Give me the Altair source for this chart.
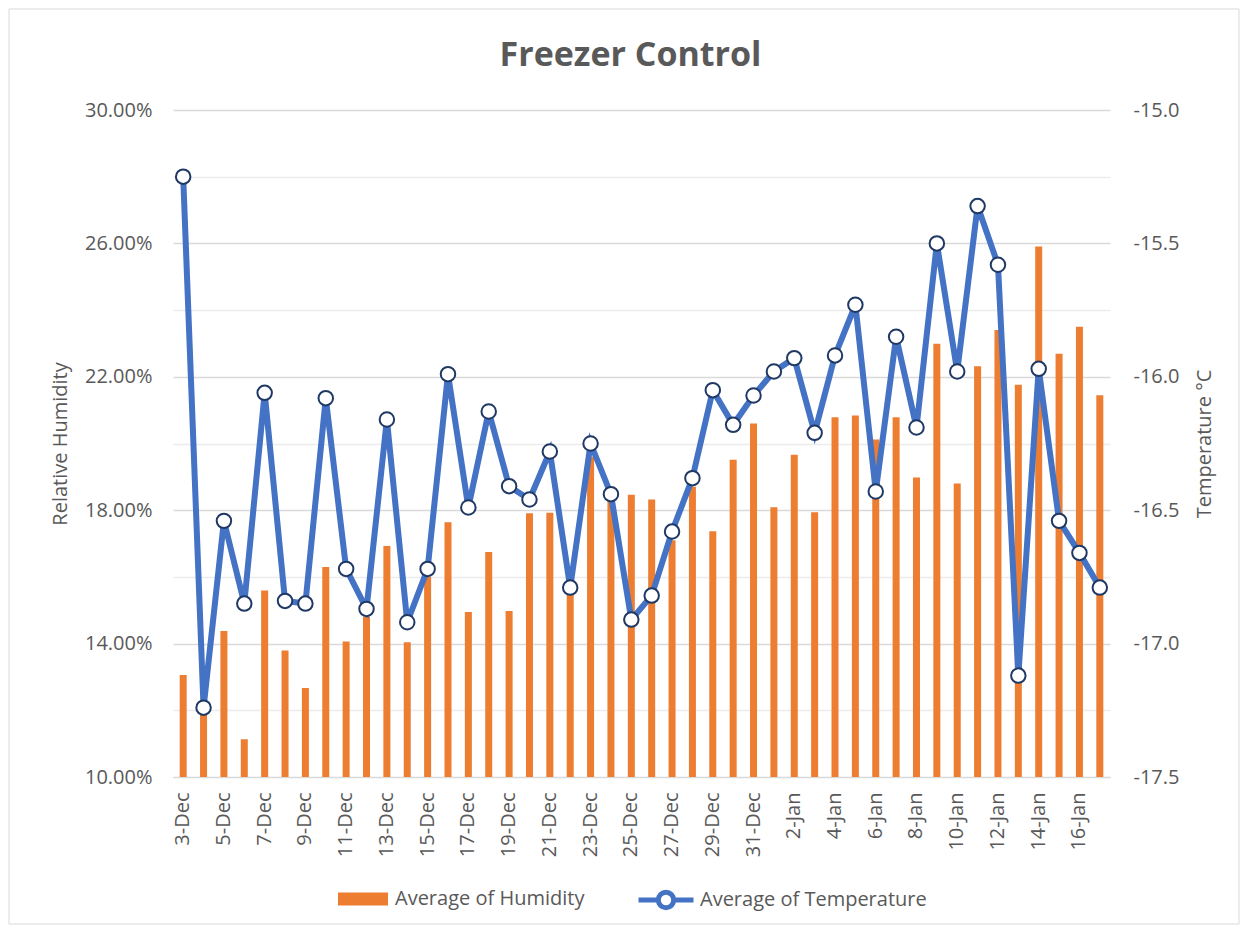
import altair as alt
import pandas as pd

# ---- data ----
dates = [f"{d}-Dec" for d in range(3, 32)] + [f"{d}-Jan" for d in range(1, 18)]

humidity_pct = [
    13.06, 11.90, 14.38, 11.13, 15.59, 13.79, 12.67, 16.30, 14.06, 14.80,
    16.93, 14.04, 16.00, 17.64, 14.95, 16.75, 14.98, 17.91, 17.92, 15.60,
    19.60, 18.40, 18.46, 18.32, 17.10, 18.70, 17.37, 19.51, 20.60, 18.09,
    19.66, 17.94, 20.79, 20.84, 20.12, 20.79, 18.98, 22.99, 18.80, 22.32,
    23.40, 21.76, 25.91, 22.69, 23.50, 21.45,
]

temperature = [
    -15.25, -17.24, -16.54, -16.85, -16.06, -16.84, -16.85, -16.08, -16.72, -16.87,
    -16.16, -16.92, -16.72, -15.99, -16.49, -16.13, -16.41, -16.46, -16.28, -16.79,
    -16.25, -16.44, -16.91, -16.82, -16.58, -16.38, -16.05, -16.18, -16.07, -15.98,
    -15.93, -16.21, -15.92, -15.73, -16.43, -15.85, -16.19, -15.50, -15.98, -15.36,
    -15.58, -17.12, -15.97, -16.54, -16.66, -16.79,
]

hum_label = "Average of Humidity"
temp_label = "Average of Temperature"

hum_ticks = [0.10, 0.14, 0.18, 0.22, 0.26, 0.30]
temp_ticks = [-17.5, -17.25, -17.0, -16.75, -16.5, -16.25, -16.0, -15.75, -15.5, -15.25, -15.0]

df = pd.DataFrame({
    "date": dates,
    "hum": [h / 100 for h in humidity_pct],
    "temp": temperature,
    "hser": hum_label,
    "tser": temp_label,
})

FONT = "Open Sans"
GREY = "#595959"
ORANGE = "#ED7D31"
BLUE = "#4472C4"
NAVY = "#1F3864"

W, H = 937, 667

x = alt.X(
    "date:N",
    sort=dates,
    scale=alt.Scale(paddingInner=0, paddingOuter=0),
    axis=alt.Axis(
        values=dates[::2], labelAngle=-90, labelPadding=15, ticks=False,
        domainColor="#d9d9d9", domainWidth=1, grid=False, title=None,
    ),
)

y_hum = alt.Y(
    "hum:Q",
    scale=alt.Scale(domain=[0.10, 0.30], nice=False, zero=False),
    axis=alt.Axis(
        orient="left", values=hum_ticks, format=".2%", grid=False, ticks=False,
        domain=False, labelPadding=21, title="Relative Humidity", titlePadding=14,
    ),
)

y_temp = alt.Y(
    "temp:Q",
    scale=alt.Scale(domain=[-17.5, -15.0], nice=False, zero=False),
    axis=alt.Axis(
        orient="right", values=temp_ticks, ticks=False, domain=False,
        labelPadding=23,
        labelExpr="abs(datum.value*2 - round(datum.value*2)) < 0.001 ? "
                  "((datum.value < 0 ? '-' : '') + format(abs(datum.value), '.1f')) : ''",
        grid=True,
        gridColor={"condition": {"test": "abs(datum.value*2 - round(datum.value*2)) < 0.001",
                                 "value": "#d9d9d9"},
                   "value": "#ececec"},
        gridWidth=1.3,
        title="Temperature °C", titleAngle=270, titleBaseline="top", titlePadding=16,
    ),
)

base = alt.Chart(df)

border = alt.Chart(pd.DataFrame({"k": [0]})).mark_rect(
    fillOpacity=0, stroke="#d9d9d9", strokeWidth=1
).encode(
    x=alt.value(-164), x2=alt.value(1066), y=alt.value(-101), y2=alt.value(814)
)

bars = base.mark_bar(size=7, clip=True).encode(
    x=x,
    y=y_hum,
    color=alt.Color(
        "hser:N",
        scale=alt.Scale(domain=[hum_label], range=[ORANGE]),
        legend=alt.Legend(
            orient="none", legendX=165, legendY=764, title=None, padding=0,
            symbolType="M-1,-0.26L1,-0.26L1,0.26L-1,0.26Z", symbolSize=2500,
            symbolStrokeWidth=0, labelOffset=7, labelLimit=400,
        ),
    ),
)

line = base.mark_line(strokeWidth=6).encode(
    x=x,
    y=y_temp,
    stroke=alt.Stroke(
        "tser:N",
        scale=alt.Scale(domain=[temp_label], range=[BLUE]),
        legend=alt.Legend(
            orient="none", legendX=463, legendY=760, title=None, padding=0,
            symbolType="M-1,0L-0.28,0M0.28,0L1,0M0.28,0A0.28,0.28,0,1,1,-0.28,0A0.28,0.28,0,1,1,0.28,0Z",
            symbolSize=3025, symbolStrokeWidth=5, symbolFillColor="white",
            labelOffset=4, labelLimit=400,
        ),
    ),
)

points = base.mark_point(
    filled=True, fill="white", stroke=NAVY, strokeWidth=2, size=210, opacity=1
).encode(x=x, y=y_temp)

chart = alt.layer(
    border, bars, alt.layer(line, points)
).resolve_scale(
    y="independent"
).properties(
    width=W,
    height=H,
    padding={"left": 165, "top": 102, "right": 131, "bottom": 149},
    autosize=alt.AutoSizeParams(type="none"),
    title=alt.TitleParams(
        "Freezer Control", font=FONT, fontSize=34, fontWeight="bold", color=GREY,
        anchor="middle", frame="group", dx=-11, offset=-91, baseline="alphabetic",
    ),
).configure_view(
    strokeWidth=0
).configure_axis(
    labelFont=FONT, titleFont=FONT, labelColor=GREY, titleColor=GREY,
    labelFontSize=20, titleFontSize=20, titleFontWeight="normal",
).configure_legend(
    labelFont=FONT, labelFontSize=20, labelColor=GREY,
)

chart.save("out.html", embed_options={"renderer": "svg", "actions": False})
